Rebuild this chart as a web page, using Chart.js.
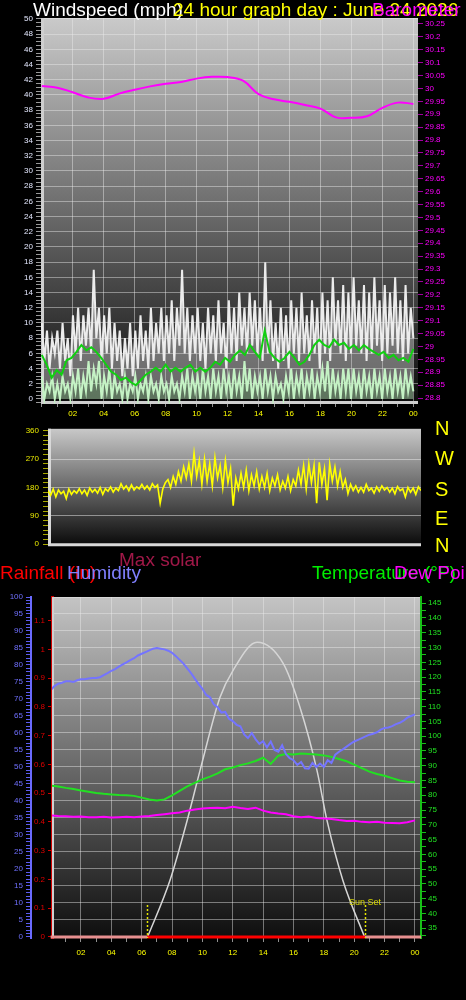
<!DOCTYPE html>
<html><head><meta charset="utf-8">
<script src="https://cdn.jsdelivr.net/npm/chart.js@4"></script>
<style>
html,body{margin:0;padding:0;background:#000;width:466px;height:1000px;overflow:hidden;font-family:"Liberation Sans",Arial,sans-serif;}
canvas{position:absolute;left:0;}
.t{position:absolute;white-space:nowrap;line-height:1;z-index:5;}
</style></head><body>
<canvas id="c1" width="466" height="425" style="top:0"></canvas>
<canvas id="c2" width="466" height="135" style="top:420px"></canvas>
<canvas id="c3" width="466" height="385" style="top:585px"></canvas>

<div class="t" style="left:33px;top:0;font-size:19px;color:#ffffff">Windspeed (mph)</div>
<div class="t" style="left:173px;top:0;font-size:19px;color:#ffff00">24 hour graph day : June 24 2026</div>
<div class="t" style="left:372px;top:0;font-size:19px;color:#ff00ff">Barometer (in)</div>

<div class="t" style="left:435px;top:418px;font-size:20px;color:#ffff00">N</div>
<div class="t" style="left:435px;top:448px;font-size:20px;color:#ffff00">W</div>
<div class="t" style="left:435px;top:479px;font-size:20px;color:#ffff00">S</div>
<div class="t" style="left:435px;top:508px;font-size:20px;color:#ffff00">E</div>
<div class="t" style="left:435px;top:535px;font-size:20px;color:#ffff00">N</div>

<div class="t" style="left:119px;top:550px;font-size:19px;color:#a01848">Max solar</div>
<div class="t" style="left:0;top:563px;font-size:19px;color:#ff0000">Rainfall (in)</div>
<div class="t" style="left:67px;top:563px;font-size:19px;color:#8080ff">Humidity</div>
<div class="t" style="left:312px;top:563px;font-size:19px;color:#00ee00">Temperature (°F)</div>
<div class="t" style="left:394px;top:563px;font-size:19px;color:#ff00ff">Dew Point</div>

<script>
// ---------- DATA ----------
const hourTicks = ['02','04','06','08','10','12','14','16','18','20','22','00'];

// Top panel (10-minute samples, 00:00 -> 24:00)
const gustValues = [
 10,5,9,4,8,6, 9,4,10,5,8,3, 11,6,12,5,11,7, 12,6,17,8,12,5,
 11,6,12,4,10,5, 9,3,8,4,10,3, 9,4,11,5,9,4, 12,5,10,6,12,5,
 11,6,13,5,12,7, 17,6,12,5,11,6, 12,5,10,4,12,6, 11,5,13,6,10,4,
 13,6,12,5,14,7, 12,6,14,7,13,6, 12,5,18,6,13,5, 10,4,12,5,11,4,
 13,6,12,5,14,6, 11,5,13,6,12,4, 14,6,13,5,16,7, 13,6,15,5,14,6,
 16,7,13,6,15,5, 14,6,16,7,13,5, 15,6,14,7,16,6, 13,5,15,6,12,8];
const speedValues = [
 3,0,2,1,3,0, 2,0,3,1,2,0, 3,1,4,0,3,1, 5,1,4,2,5,0,
 3,1,4,0,3,1, 2,0,3,0,2,1, 3,0,2,1,3,0, 3,1,2,0,3,1,
 2,0,3,1,2,0, 3,1,4,0,3,1, 3,0,4,1,3,0, 4,1,3,0,4,1,
 3,0,4,1,3,0, 5,1,4,0,3,1, 3,0,4,1,3,0, 3,1,2,0,3,1,
 4,0,3,1,4,0, 3,1,4,0,3,1, 4,1,5,0,4,1, 3,0,4,1,4,0,
 4,1,3,0,4,1, 3,0,4,1,3,0, 4,1,3,0,4,1, 3,0,4,1,3,1];
const avgValues = [
 5.8,4.5,2.8,3.8,3.2,5.1,5.4,6.2,7.1,6.4, 6.8,6.2,5.4,4.5,3.6,3.2,2.5,2.8,2.2,1.8,
 2.5,3.2,3.6,4.1,3.6,4.5,3.6,4.1,3.6,4.1, 4.5,3.6,4.1,3.6,4.1,4.9,4.5,5.4,4.9,5.8,
 6.4,5.8,7.1,6.2,5.4,9.0,6.2,5.4,4.9,5.4, 6.2,5.4,4.5,4.9,5.8,7.1,7.8,7.1,6.8,7.8,
 7.1,7.4,6.6,7.1,6.4,7.1,6.6,6.2,5.8,6.2, 5.4,5.8,5.1,5.4,4.9,6.6];
// hourly barometer
const pressureValues = [30.009,30.003,29.985,29.965,29.960,29.980,29.995,30.008,30.018,30.025,
 30.038,30.045,30.044,30.030,29.978,29.958,29.948,29.936,29.922,29.888,29.886,29.892,29.925,29.945,29.940];

// Wind direction (10-minute samples)
const directionValues = [
 170,155,175,150,172,160, 168,145,175,158,170,162, 176,160,172,155,178,165, 174,162,180,158,176,168,
 182,165,178,170,192,175, 185,170,188,172,182,176, 190,175,185,172,192,180, 188,130,175,195,205,180,
 215,190,230,200,245,210, 255,200,289,215,265,190, 270,200,255,185,275,210, 250,180,265,195,240,122,
 210,175,225,180,235,170, 220,185,230,175,215,180, 225,170,210,185,220,172, 200,178,215,170,205,185,
 235,190,250,175,255,195, 250,130,260,190,240,140, 255,200,245,185,230,180, 205,160,190,170,185,165,
 180,165,190,170,178,162, 182,168,185,172,180,165, 178,160,183,170,176,150, 180,165,178,158,182,170];

// Bottom panel
const humidityValues = [ // every 15 minutes
 72.6,73.8,74.5,74.8,75.2,75.2,75.0,75.5,75.8,75.8,76.0,76.2,76.2,76.4,77.0,77.6,
 78.3,78.8,79.5,80.2,80.8,81.4,82.0,82.8,83.3,83.8,84.3,84.8,85.0,84.8,84.6,84.2,
 83.6,82.6,81.5,80.4,79.0,77.6,76.0,74.4,73.0,71.2,70.5,68.4,67.6,66.0,66.2,64.2,
 63.5,62.4,62.0,59.6,58.5,60.0,58.2,56.8,57.6,55.8,57.5,55.0,54.5,56.4,53.8,52.6,
 52.0,50.6,51.5,49.6,49.5,51.2,50.0,51.0,50.0,52.0,51.2,53.6,54.5,55.2,56.0,56.8,
 57.5,58.0,58.5,59.0,59.5,59.8,60.2,61.0,61.5,61.6,62.0,62.6,63.0,63.6,64.5,65.0,65.5];
const temperatureValues = [ // every 30 minutes
 83.3,83.0,82.5,82.1,81.6,81.2,80.8,80.5,80.3,80.1,80.0,79.8,79.2,78.6,78.2,78.6,
 80.0,81.5,83.0,84.2,85.4,86.3,87.4,88.8,89.4,90.2,90.8,91.6,92.7,90.6,93.4,94.0,
 93.8,94.1,94.0,93.8,93.5,93.0,92.3,91.5,90.4,89.2,88.0,87.2,86.6,85.8,85.0,84.6,84.4];
const dewPointValues = [ // every 30 minutes
 73.2,73.0,72.9,72.7,72.8,72.6,72.6,72.7,72.5,72.6,72.7,72.6,72.8,73.0,73.3,73.6,
 73.9,74.2,74.8,75.2,75.5,75.7,75.8,75.6,76.1,75.7,75.4,75.8,74.8,74.2,73.8,73.6,
 72.9,72.6,72.8,72.3,72.1,72.0,71.6,71.3,71.4,71.0,70.9,71.0,70.7,70.6,70.5,70.9,71.5];
const solarHours  = [6.36, 7.87, 8.99, 9.84, 11.16, 12.02, 13.6, 15.31, 16.43, 17.55, 18.21, 19.26, 20.71];
const solarValues = [0, 170, 344, 491, 706, 785, 867, 806, 676, 491, 344, 168, 0];
const rainHours  = [0, 6.36, 20.71, 24.4];
const rainValues = [0, 0, 0, 0];
const sunrise = solarHours[0], sunset = solarHours[solarHours.length-1];

// ---------- HELPERS ----------
const spread = vals => vals.map((v,i)=>({x: i*24/(vals.length-1), y: v}));
const zip = (xs, ys) => xs.map((x,i)=>({x, y: ys[i]}));
const hourLabel = v => (v>0 && v%2===0) ? hourTicks[v/2-1] : '';
Chart.defaults.font.family = "'Liberation Sans', Arial, sans-serif";
Chart.defaults.font.size = 8;
const GRID = 'rgba(235,235,235,0.45)';
const base = {responsive:false, animation:false, events:[],
  plugins:{legend:{display:false}, tooltip:{enabled:false}}};

function bg(top, bottom){ return {id:'bg', beforeDraw(ch){
  const {ctx, chartArea:a} = ch; const g = ctx.createLinearGradient(0,a.top,0,a.bottom);
  g.addColorStop(0, top); g.addColorStop(1, bottom);
  ctx.save(); ctx.fillStyle = g; ctx.fillRect(a.left,a.top,a.right-a.left,a.bottom-a.top); ctx.restore();
}};}
function frame(color, w){ return {id:'frame', beforeDatasetsDraw(ch){
  const {ctx, chartArea:a} = ch; ctx.save(); ctx.strokeStyle = color; ctx.lineWidth = w;
  ctx.beginPath(); ctx.moveTo(a.left + w/2, a.top); ctx.lineTo(a.left + w/2, a.bottom - w/2);
  ctx.lineTo(a.right, a.bottom - w/2); ctx.stroke(); ctx.restore();
}};}
const ln = (data, color, axis, w, extra) => Object.assign({data, borderColor:color, yAxisID:axis,
  borderWidth:w, pointRadius:0, fill:false, tension:0}, extra||{});

// ---------- CHART 1 : wind speed + barometer ----------
new Chart(document.getElementById('c1'), {
  type:'line',
  data:{datasets:[
    ln(zip(pressureValues.map((_,i)=>i), pressureValues), '#ff00ff', 'yP', 2, {tension:0.4}),
    ln(spread(avgValues), '#10d010', 'yW', 2),
    ln(spread(speedValues), '#c4f2c4', 'yW', 2, {fill:'origin', backgroundColor:'rgba(190,240,190,0.45)'}),
    ln(spread(gustValues), '#ececec', 'yW', 2, {fill:'-1', backgroundColor:'rgba(225,225,225,0.42)'})
  ]},
  options:Object.assign({}, base, {
    layout:{padding:{top:18,left:0,right:0,bottom:0}},
    scales:{
      x:{type:'linear', min:-0.05, max:24.3, afterFit:s=>{s.height=21;},
         ticks:{stepSize:1, includeBounds:false, autoSkip:false, maxRotation:0, color:'#ffff00', padding:2, callback:hourLabel},
         grid:{color:c=> (c.tick && c.tick.value%2===0) ? GRID : 'transparent', borderDash:[1,2], tickColor:'#909090', tickLength:3, tickBorderDash:[]},
         border:{display:false}},
      yW:{position:'left', min:-0.66, max:50.13, afterFit:s=>{s.width=41;},
         ticks:{stepSize:0.5, includeBounds:false, autoSkip:false, color:'#e4e8ff', padding:3, callback:v=> v%2===0 ? String(v) : ''},
         grid:{color:c=> (c.tick && c.tick.value%2===0 && c.tick.value>0) ? GRID : 'transparent', borderDash:[1,2], tickColor:'#9a9a9a', tickLength:5, tickBorderDash:[]},
         border:{display:false}},
      yP:{position:'right', min:28.777, max:30.273, afterFit:s=>{s.width=48;},
         ticks:{stepSize:0.05, includeBounds:false, autoSkip:false, color:'#ff00ff', padding:2, callback:v=> String(+v.toFixed(2))},
         grid:{drawOnChartArea:false, tickColor:'#a000a0', tickLength:5},
         border:{display:false}}
    }
  }),
  plugins:[bg('#cacaca','#0c0c0c'), frame('#cfcfcf', 3)]
});

// ---------- CHART 2 : wind direction ----------
new Chart(document.getElementById('c2'), {
  type:'line',
  data:{datasets:[ ln(spread(directionValues), '#ffff00', 'y', 1.6) ]},
  options:Object.assign({}, base, {
    layout:{padding:{top:7,left:0,right:45,bottom:8}},
    scales:{
      x:{type:'linear', min:0, max:24, display:false},
      y:{position:'left', min:-6.2, max:366, afterFit:s=>{s.width=48;},
         ticks:{stepSize:15, includeBounds:false, autoSkip:false, color:'#e8e800', padding:4, callback:v=> v%90===0 ? String(v) : ''},
         grid:{color:c=> (c.tick && c.tick.value%90===0 && c.tick.value>0 && c.tick.value<360) ? 'rgba(235,235,235,0.5)' : 'transparent', tickColor:'#a8a800', tickLength:5},
         border:{display:false}}
    }
  }),
  plugins:[bg('#c8c8c8','#080808'), frame('#d8d8d8', 3)]
});

// ---------- CHART 3 : rain / humidity / temperature / dew point / solar ----------
const sunPlugin = {id:'sun', afterDatasetsDraw(ch){
  const {ctx, chartArea:a, scales:{x}} = ch; ctx.save();
  ctx.strokeStyle = '#e6e600'; ctx.lineWidth = 1.5; ctx.setLineDash([2,2]);
  [sunrise, sunset].forEach(h=>{ const px = Math.round(x.getPixelForValue(h))+0.5;
    ctx.beginPath(); ctx.moveTo(px, a.bottom-33); ctx.lineTo(px, a.bottom); ctx.stroke(); });
  ctx.setLineDash([]); ctx.fillStyle = '#d8d800'; ctx.font = "9px 'Liberation Sans', Arial"; ctx.textAlign = 'center';
  ctx.fillText('Sun Set', x.getPixelForValue(sunset), a.bottom-33);
  ctx.restore();
}};
new Chart(document.getElementById('c3'), {
  type:'line',
  data:{datasets:[
    ln(zip(rainHours, rainValues), '#e89090', 'rain', 3, {clip:5,
       segment:{borderColor:c=> (c.p0.parsed.x >= sunrise-1e-6 && c.p1.parsed.x <= sunset+1e-6) ? '#ff0000' : '#e89090'}}),
    ln(spread(humidityValues), '#7474ff', 'hum', 2),
    ln(spread(temperatureValues), '#22e022', 'temp', 2),
    ln(spread(dewPointValues), '#ff00ff', 'temp', 2),
    ln(zip(solarHours, solarValues), '#d6d6d6', 'sol', 1.5, {cubicInterpolationMode:'monotone'})
  ]},
  options:Object.assign({}, base, {
    layout:{padding:{top:12,left:0,right:0,bottom:0}},
    scales:{
      x:{type:'linear', min:0.09, max:24.4, afterFit:s=>{s.height=32;},
         ticks:{stepSize:1, includeBounds:false, autoSkip:false, maxRotation:0, color:'#ffff00', padding:6, callback:hourLabel},
         grid:{color:c=> (c.tick && c.tick.value%2===0) ? GRID : 'transparent', borderDash:[1,2], tickColor:'#909090', tickLength:4, tickBorderDash:[]},
         border:{display:false}},
      hum:{position:'left', weight:10, min:-0.3, max:100, afterFit:s=>{s.width=31;},
         ticks:{stepSize:1, includeBounds:false, autoSkip:false, color:'#7070ff', padding:3, callback:v=> v%5===0 ? String(v) : ''},
         grid:{color:c=> (c.tick && c.tick.value%5===0 && c.tick.value>0) ? GRID : 'transparent', borderDash:[1,2], tickColor:'#5c5cf0', tickLength:5, tickBorderDash:[]},
         border:{display:true, color:'#6a6aff', width:2}},
      rain:{position:'left', weight:0, min:-0.0035, max:1.1826, afterFit:s=>{s.width=21;},
         ticks:{stepSize:0.1, includeBounds:false, autoSkip:false, color:'#e00000', padding:3, callback:v=> String(+v.toFixed(1))},
         grid:{drawOnChartArea:false, tickColor:'#d00000', tickLength:4},
         border:{display:true, color:'#d00000', width:3, dash:[2,7.6]}},
      temp:{position:'right', min:31.7, max:147.1, afterFit:s=>{s.width=45;},
         ticks:{stepSize:2.5, includeBounds:false, autoSkip:false, color:'#22e022', padding:2, callback:v=> v%5===0 ? String(v) : ''},
         grid:{drawOnChartArea:false, tickColor:'#18c018', tickLength:5},
         border:{display:true, color:'#18c018', width:2, dash:[2,2]}},
      sol:{display:false, min:0, max:1000}
    }
  }),
  plugins:[bg('#c4c4c4','#0e0e0e'), frame('#d0d0d0', 2), sunPlugin]
});
</script>
</body></html>
